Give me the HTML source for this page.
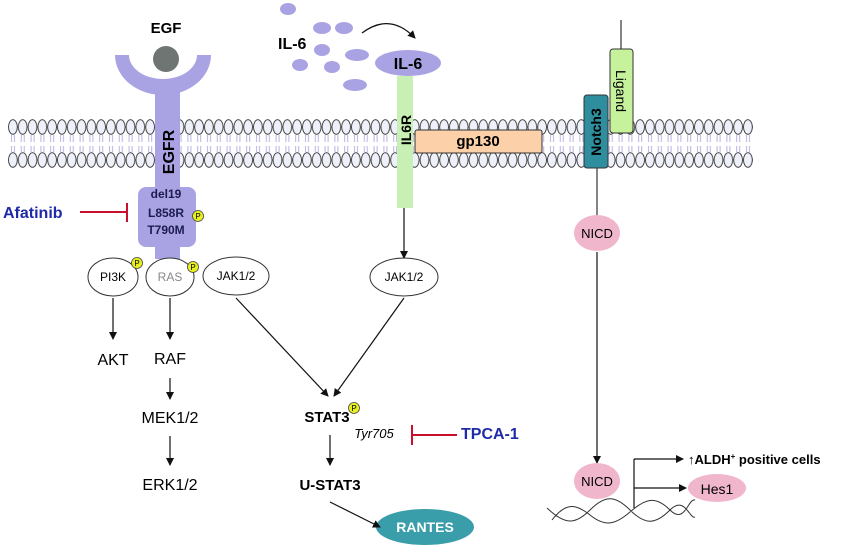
<!DOCTYPE html>
<html><head><meta charset="utf-8"><style>
html,body{margin:0;padding:0;background:#fff;}
svg{display:block;font-family:"Liberation Sans",sans-serif;}
</style></head><body>
<svg width="850" height="551" viewBox="0 0 850 551" xmlns="http://www.w3.org/2000/svg">
<defs>
<marker id="ah" markerWidth="8" markerHeight="8" refX="7" refY="4" orient="auto" markerUnits="userSpaceOnUse"><path d="M0,0 L8,4 L0,8 z" fill="#111"/></marker>
<pattern id="mem" x="8" y="0" width="9.8" height="551" patternUnits="userSpaceOnUse">
<ellipse cx="4.9" cy="127" rx="4.4" ry="7.3" fill="#eef0fa" stroke="#333" stroke-width="0.9"/>
<ellipse cx="4.9" cy="160" rx="4.4" ry="7.3" fill="#eef0fa" stroke="#333" stroke-width="0.9"/>
<path d="M3.5,135 v7 M6.5,135 v7 M3.5,146 v7 M6.5,146 v7" stroke="#b8b4e0" stroke-width="1"/>
</pattern>
</defs>
<rect x="8" y="115" width="745" height="55" fill="url(#mem)"/>

<!-- EGFR -->
<text x="166" y="33" font-size="15" font-weight="bold" text-anchor="middle">EGF</text>
<path d="M115,55 A48,40 0 0 0 211,55 L197,55 A34,24 0 0 1 129,55 Z" fill="#a9a3e3"/>
<rect x="155" y="85" width="25" height="110" fill="#a9a3e3"/>
<circle cx="166" cy="59" r="13" fill="#6f7572"/>
<text transform="translate(174,152) rotate(-90)" font-size="16" font-weight="bold" text-anchor="middle">EGFR</text>
<rect x="138" y="187" width="58" height="60" rx="8" fill="#a9a3e3"/>
<rect x="155" y="245" width="25" height="14" fill="#a9a3e3"/>
<g font-size="12" font-weight="bold" fill="#1c1c50" text-anchor="middle">
<text x="166" y="198">del19</text><text x="166" y="217">L858R</text><text x="166" y="234">T790M</text></g>
<circle cx="198" cy="216" r="5.5" fill="#e8f020" stroke="#444" stroke-width="0.8"/>
<text x="198" y="219" font-size="8" text-anchor="middle">P</text>
<text x="3" y="218" font-size="16" font-weight="bold" fill="#1f2aa8">Afatinib</text>
<path d="M80,212 H127 M127,203 V222" stroke="#c8102e" stroke-width="2"/>

<!-- left ellipses -->
<g fill="#fff" stroke="#333" stroke-width="1">
<ellipse cx="113" cy="277" rx="25" ry="19"/><ellipse cx="170" cy="277" rx="24" ry="19"/>
<ellipse cx="236" cy="276" rx="33" ry="19"/><ellipse cx="404" cy="277" rx="34" ry="19"/></g>
<g font-size="12" text-anchor="middle">
<text x="113" y="281">PI3K</text><text x="170" y="281" fill="#888">RAS</text>
<text x="236" y="280">JAK1/2</text><text x="404" y="281">JAK1/2</text></g>
<g fill="#e8f020" stroke="#444" stroke-width="0.8"><circle cx="137" cy="263" r="5.5"/><circle cx="193" cy="267" r="5.5"/><circle cx="354" cy="408" r="5.5"/></g>
<g font-size="8" text-anchor="middle"><text x="137" y="266">P</text><text x="193" y="270">P</text><text x="354" y="411">P</text></g>

<ellipse cx="425" cy="527" rx="49" ry="18" fill="#3a9daa"/>
<text x="425" y="532" font-size="14" font-weight="bold" fill="#fff" text-anchor="middle">RANTES</text>

<g stroke="#111" stroke-width="1.2" marker-end="url(#ah)">
<line x1="113" y1="298" x2="113" y2="339"/>
<line x1="170" y1="298" x2="170" y2="339"/>
<line x1="170" y1="378" x2="170" y2="399"/>
<line x1="170" y1="436" x2="170" y2="465"/>
<line x1="236" y1="298" x2="328" y2="396"/>
<line x1="404" y1="298" x2="334" y2="396"/>
<line x1="330" y1="435" x2="330" y2="465"/>
<line x1="330" y1="502" x2="380" y2="527"/>
<line x1="404" y1="208" x2="404" y2="258"/>
<line x1="597" y1="252" x2="597" y2="463"/>
<line x1="634" y1="459" x2="683" y2="459"/>
<line x1="634" y1="488" x2="686" y2="488"/>
<path d="M362,33 Q390,12 415,38" fill="none"/>
</g>
<g font-size="16" text-anchor="middle">
<text x="113" y="365">AKT</text><text x="170" y="364">RAF</text>
<text x="170" y="423">MEK1/2</text><text x="170" y="490">ERK1/2</text></g>
<text x="327" y="422" font-size="15" font-weight="bold" text-anchor="middle">STAT3</text>
<text x="374" y="438" font-size="13" font-style="italic" text-anchor="middle">Tyr705</text>
<path d="M412,425 V445 M412,435 H457" stroke="#c8102e" stroke-width="2"/>
<text x="461" y="439" font-size="16" font-weight="bold" fill="#1f2aa8">TPCA-1</text>
<text x="330" y="490" font-size="15" font-weight="bold" text-anchor="middle">U-STAT3</text>

<!-- IL-6 -->
<text x="278" y="49" font-size="16" font-weight="bold">IL-6</text>
<g fill="#a9a3e3">
<ellipse cx="288" cy="9" rx="8" ry="6"/><ellipse cx="322" cy="28" rx="9" ry="6"/><ellipse cx="344" cy="28" rx="9" ry="6"/>
<ellipse cx="322" cy="50" rx="8" ry="6"/><ellipse cx="357" cy="55" rx="12" ry="6"/><ellipse cx="300" cy="65" rx="8" ry="6"/>
<ellipse cx="332" cy="67" rx="8" ry="6"/><ellipse cx="355" cy="85" rx="12" ry="6"/>
<ellipse cx="408" cy="63" rx="33" ry="13"/></g>
<text x="408" y="69" font-size="16" font-weight="bold" text-anchor="middle">IL-6</text>
<rect x="397" y="76" width="16" height="132" fill="#c9f0b4"/>
<text transform="translate(411,130) rotate(-90)" font-size="14" font-weight="bold" text-anchor="middle">IL6R</text>
<rect x="415" y="130" width="127" height="23" rx="2" fill="#fcd0a9" stroke="#333" stroke-width="1"/>
<text x="478" y="146" font-size="15" font-weight="bold" text-anchor="middle">gp130</text>

<!-- Notch -->
<line x1="621" y1="20" x2="621" y2="50" stroke="#333" stroke-width="1.2"/>
<line x1="597" y1="168" x2="597" y2="216" stroke="#333" stroke-width="1.2"/>
<rect x="610" y="49" width="23" height="84" rx="3" fill="#c7f29c" stroke="#333" stroke-width="1"/>
<text transform="translate(616,91) rotate(90)" font-size="14" text-anchor="middle">Ligand</text>
<rect x="584" y="95" width="24" height="73" rx="3" fill="#2f8e9e" stroke="#333" stroke-width="1"/>
<text transform="translate(601,132) rotate(-90)" font-size="14" font-weight="bold" text-anchor="middle">Notch3</text>
<g fill="#f0b6cc"><ellipse cx="597" cy="233" rx="23" ry="18"/><ellipse cx="597" cy="481" rx="23" ry="18"/><ellipse cx="717" cy="488" rx="29" ry="14"/></g>
<g font-size="13" text-anchor="middle"><text x="597" y="238">NICD</text><text x="597" y="486">NICD</text><text x="717" y="494" font-size="14">Hes1</text></g>
<line x1="634" y1="459" x2="634" y2="508" stroke="#111" stroke-width="1.2"/>
<path d="M547,508 C565,525 575,525 590,510 S615,495 630,510 S655,525 670,510 S690,520 695,517 M552,520 C565,503 575,503 590,515 S615,525 630,512 S655,495 670,510 S688,498 695,500" fill="none" stroke="#333" stroke-width="1"/>
<text x="688" y="464" font-size="13" font-weight="bold">↑ALDH<tspan font-size="8" dy="-5">+</tspan><tspan dy="5"> positive cells</tspan></text>
</svg>
</body></html>
